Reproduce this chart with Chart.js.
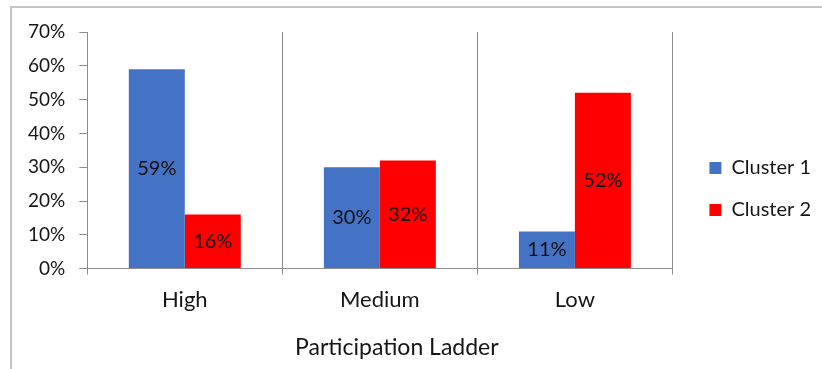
<!DOCTYPE html>
<html>
<head>
<meta charset="utf-8">
<script src="https://cdn.jsdelivr.net/npm/chart.js@4/dist/chart.umd.min.js"></script>
<style>
  html, body { margin: 0; padding: 0; background: #fff; }
  #wrap { position: relative; width: 822px; height: 369px; }
  #frame {
    position: absolute; left: 10px; top: 6px; right: 0; bottom: 0;
    border-top: 2px solid #c4c4c4; border-left: 2px solid #c4c4c4;
    pointer-events: none;
  }
  canvas { display: block; }
</style>
</head>
<body>
<div id="wrap">
  <canvas id="chart" width="822" height="369"></canvas>
  <div id="frame"></div>
</div>
<script>
const categories = ['High', 'Medium', 'Low'];
const seriesNames = ['Cluster 1', 'Cluster 2'];
const cluster1 = [59, 30, 11];
const cluster2 = [16, 32, 52];
const axisTitle = 'Participation Ladder';

const FONT = 'Lato, "Open Sans", sans-serif';
const TEXT = '#151515';
const LINE = '#8c8c8c';

// Value labels centred inside each bar
const barValueLabels = {
  id: 'barValueLabels',
  afterDatasetsDraw(chart) {
    const ctx = chart.ctx;
    ctx.save();
    ctx.font = '20px ' + FONT;
    ctx.fillStyle = '#111111';
    ctx.textAlign = 'center';
    ctx.textBaseline = 'middle';
    chart.data.datasets.forEach((ds, i) => {
      chart.getDatasetMeta(i).data.forEach((bar, j) => {
        ctx.fillText(ds.data[j] + '%', bar.x, (bar.y + bar.base) / 2);
      });
    });
    ctx.restore();
  }
};

// Category axis caption, set a little right of the plot centre
const axisCaption = {
  id: 'axisCaption',
  afterDraw(chart, args, opts) {
    const a = chart.chartArea;
    const ctx = chart.ctx;
    ctx.save();
    ctx.font = '23px ' + FONT;
    ctx.fillStyle = TEXT;
    ctx.textAlign = 'center';
    ctx.textBaseline = 'middle';
    ctx.fillText(opts.text, (a.left + a.right) / 2 + opts.shift, a.bottom + opts.drop);
    ctx.restore();
  }
};

new Chart(document.getElementById('chart'), {
  type: 'bar',
  data: {
    labels: categories,
    datasets: [
      { label: seriesNames[0], data: cluster1, backgroundColor: '#4472C4', categoryPercentage: 0.574, barPercentage: 1.0 },
      { label: seriesNames[1], data: cluster2, backgroundColor: '#FF0000', categoryPercentage: 0.574, barPercentage: 1.0 }
    ]
  },
  plugins: [barValueLabels, axisCaption],
  options: {
    responsive: false,
    animation: false,
    layout: { padding: { left: 14, right: 1, top: 32, bottom: 44 } },
    scales: {
      x: {
        grid: { offset: true, color: LINE, drawOnChartArea: true, tickLength: 6 },
        border: { color: LINE },
        ticks: { color: TEXT, font: { family: FONT, size: 22 }, padding: 12 }
      },
      y: {
        min: 0, max: 70,
        grid: { drawOnChartArea: false, color: LINE, tickLength: 8 },
        border: { color: LINE },
        ticks: { stepSize: 10, color: TEXT, font: { family: FONT, size: 19 }, padding: 14,
                 callback: v => v + '%' }
      },
      gap: {
        position: 'right', type: 'linear', display: true,
        grid: { display: false }, border: { display: false }, ticks: { display: false },
        afterFit: s => { s.width = 15; }
      }
    },
    plugins: {
      legend: {
        position: 'right',
        title: { display: true, text: '', font: { size: 10 }, padding: { top: 9, bottom: 0 } },
        labels: { color: TEXT, font: { family: FONT, size: 20 }, boxWidth: 12, boxHeight: 12, padding: 22 }
      },
      tooltip: { enabled: false },
      axisCaption: { text: axisTitle, shift: 17, drop: 79 }
    }
  }
});
</script>
</body>
</html>
